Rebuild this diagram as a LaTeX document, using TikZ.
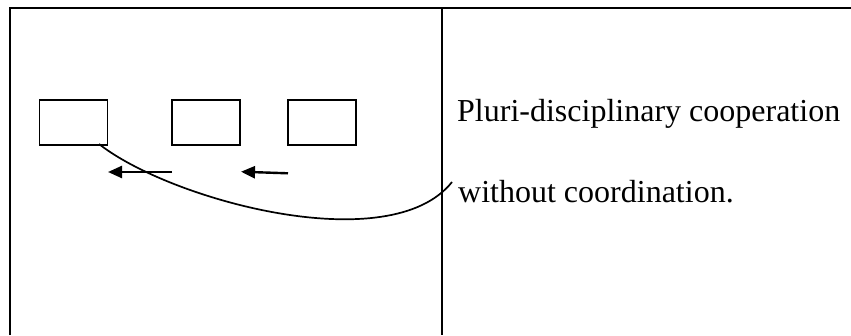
\documentclass[tikz,border=0pt]{standalone}
\usepackage{fontspec}
\setmainfont{Liberation Serif}
\usetikzlibrary{arrows.meta}
\begin{document}
\begin{tikzpicture}[x=1pt,y=-1pt,
  frame/.style={line width=2pt},
  smallbox/.style={draw,line width=1.6pt,minimum width=68pt,minimum height=45pt,inner sep=0pt},
  flowarrow/.style={line width=2.4pt,-{Triangle[length=14pt,width=12pt]}},
  label/.style={anchor=base west,inner sep=0pt,font=\fontsize{32}{38}\selectfont},
  link/.style={line width=1.7pt}]
\useasboundingbox (0,0) rectangle (851,335);
% frame
\coordinate (tl) at (10,7.5);
\coordinate (tr) at (851,7.5);
\coordinate (bl) at (10,335);
\coordinate (dt) at (441.7,7.5);
\coordinate (db) at (441.7,335);
\draw[frame] (bl) -- (tl) -- (tr);
\draw[frame] (dt) -- (db);
% boxes
\node[smallbox] (b1) at (73.5,122.5) {};
\node[smallbox] (b2) at (206,122.5) {};
\node[smallbox] (b3) at (322,122.5) {};
% arrows
\coordinate (a1s) at (172,172);
\coordinate (a1e) at (108,172);
\coordinate (a2s) at (288,173.3);
\coordinate (a2e) at (241,171.7);
\draw[flowarrow] (a1s) -- (a1e);
\draw[flowarrow] (a2s) -- (a2e);
% texts
\node[label] (t1) at (457,121) {Pluri-disciplinary cooperation};
\node[label] (t2) at (458,202) {without coordination.};
% curve
\coordinate (cs) at (99,144);
\coordinate (ce) at (452,182);
\draw[link] (cs) .. controls (170,200) and (390,260) .. (ce);
\end{tikzpicture}
\end{document}
